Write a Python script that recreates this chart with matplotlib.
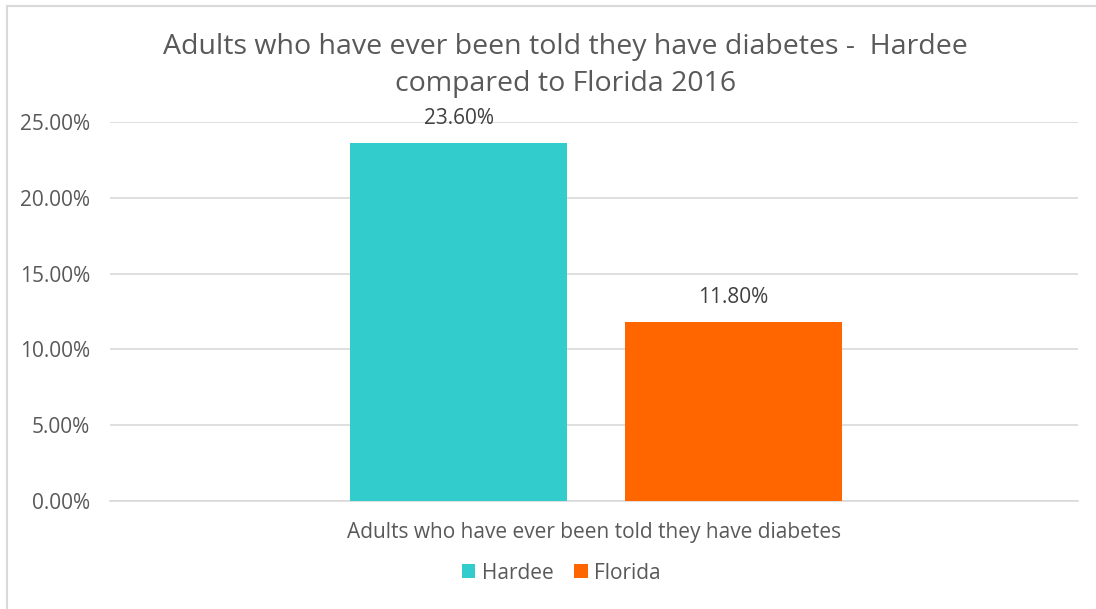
import matplotlib.pyplot as plt
from matplotlib.lines import Line2D
from matplotlib.ticker import PercentFormatter

plt.rcParams['font.family'] = ['Open Sans', 'DejaVu Sans']

category = 'Adults who have ever been told they have diabetes'
series = ['Hardee', 'Florida']
values = [0.236, 0.118]
labels = ['23.60%', '11.80%']
colors = ['#33CCCC', '#FF6600']

fig = plt.figure(figsize=(10.96, 6.09), dpi=100)
ax = fig.add_axes([0.1004, 0.1773, 0.8832, 0.6224])

width = 0.224
offsets = [-0.140, 0.144]
for name, v, lab, c, off in zip(series, values, labels, colors, offsets):
    ax.bar(off, v, width=width, color=c, label=name, zorder=3)
    ax.text(off, v + 0.0165, lab, ha='center', va='center', fontsize=15, color='#404040')

ax.set_xlim(-0.5, 0.5)
ax.set_ylim(0, 0.25)
ax.set_yticks([0, 0.05, 0.10, 0.15, 0.20, 0.25])
ax.yaxis.set_major_formatter(PercentFormatter(1.0, decimals=2))
ax.set_xticks([0])
ax.set_xticklabels([category])
ax.tick_params(axis='both', length=0, labelsize=15, labelcolor='#595959')
ax.tick_params(axis='x', pad=15)
ax.tick_params(axis='y', pad=14.5)
ax.grid(axis='y', color='#D9D9D9', linewidth=1.2, zorder=0)
for s in ['top', 'right', 'left']:
    ax.spines[s].set_visible(False)
ax.spines['bottom'].set_color('#D9D9D9')
ax.spines['bottom'].set_linewidth(1.2)

fig.text(0.516, 0.892, 'Adults who have ever been told they have diabetes -  Hardee\ncompared to Florida 2016',
         ha='center', va='center', fontsize=20.5, color='#595959', linespacing=1.45)

ax.legend(loc='center', bbox_to_anchor=(0.466, -0.19), ncol=2, frameon=False,
          fontsize=15, labelcolor='#595959', handlelength=0.65, handleheight=0.65,
          handletextpad=0.3, columnspacing=1.0)

# chart frame
fig.add_artist(Line2D([6.5 / 1096, 6.5 / 1096], [0, 1 - 5.5 / 609], color='#D9D9D9', lw=1.5, transform=fig.transFigure))
fig.add_artist(Line2D([6.5 / 1096, 1], [1 - 5.5 / 609, 1 - 5.5 / 609], color='#D9D9D9', lw=1.5, transform=fig.transFigure))

fig.savefig('out.png', dpi=100)
